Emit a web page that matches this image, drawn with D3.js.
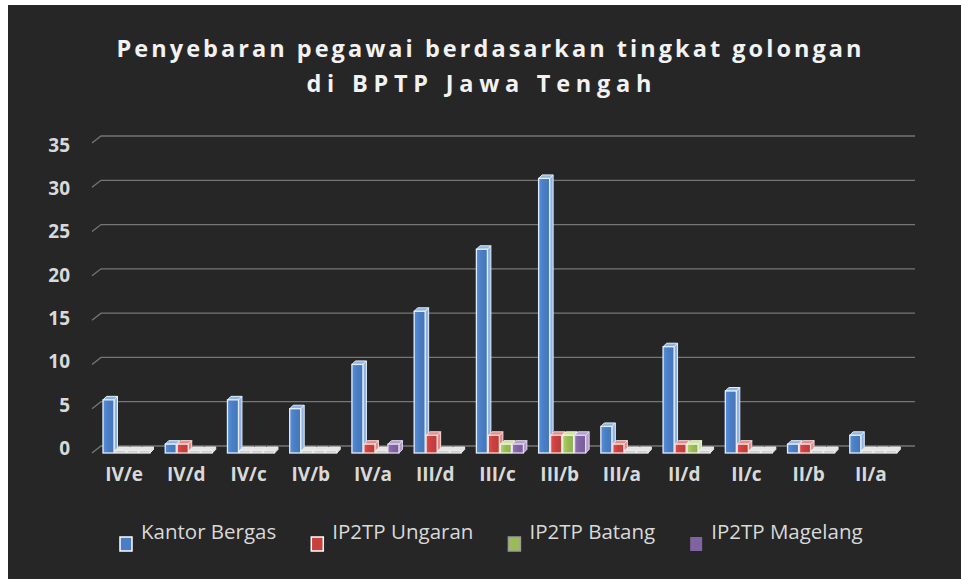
<!DOCTYPE html>
<html>
<head>
<meta charset="utf-8">
<script src="https://cdn.jsdelivr.net/npm/d3@7"></script>
<style>
  html, body { margin: 0; padding: 0; background: #ffffff; }
  svg { display: block; }
</style>
</head>
<body>
<div id="chart"></div>
<script>
// ---- data ----
const titleLines = ["Penyebaran pegawai berdasarkan tingkat golongan", "di BPTP Jawa Tengah"];
const categories = ["IV/e","IV/d","IV/c","IV/b","IV/a","III/d","III/c","III/b","III/a","II/d","II/c","II/b","II/a"];
const seriesNames = ["Kantor Bergas","IP2TP Ungaran","IP2TP Batang","IP2TP Magelang"];
const kantorBergas  = [6, 1, 6, 5, 10, 16, 23, 31, 3, 12, 7, 1, 2];
const ip2tpUngaran  = [0, 1, 0, 0, 1, 2, 2, 2, 1, 1, 1, 1, 0];
const ip2tpBatang   = [0, 0, 0, 0, 0, 0, 1, 2, 0, 1, 0, 0, 0];
const ip2tpMagelang = [0, 0, 0, 0, 1, 0, 1, 2, 0, 0, 0, 0, 0];
const yTicks = [0, 5, 10, 15, 20, 25, 30, 35];

const seriesValues = [kantorBergas, ip2tpUngaran, ip2tpBatang, ip2tpMagelang];
const seriesColors = ["#4a7ec4", "#c9413f", "#9bbb59", "#8064a2"];
const seriesLight  = ["#8fb4e4", "#e58a88", "#cfe29e", "#b29ccf"];
const seriesEdge   = ["#e3eefa", "#f6dcdb", "#eef5dd", "#e2d9ee"];

// ---- layout ----
const W = 961, H = 579;
const svg = d3.select("#chart").append("svg").attr("width", W).attr("height", H);

svg.append("rect").attr("x", 0).attr("y", 0).attr("width", W).attr("height", H).attr("fill", "#ffffff");
svg.append("rect").attr("x", 8).attr("y", 5).attr("width", W - 8).attr("height", H - 5).attr("fill", "#262626");

const defs = svg.append("defs");
seriesColors.forEach((c, i) => {
  const g = defs.append("linearGradient").attr("id", "grad" + i).attr("x1", "0").attr("x2", "1").attr("y1", "0").attr("y2", "0");
  g.append("stop").attr("offset", "0%").attr("stop-color", d3.color(c).brighter(0.35));
  g.append("stop").attr("offset", "45%").attr("stop-color", c);
  g.append("stop").attr("offset", "100%").attr("stop-color", d3.color(c).darker(0.2));
});

// Title
const titleY = [57, 92];
const titleX = [489, 479];
const titleLen = [745, 345];
titleLines.forEach((t, i) => {
  svg.append("text")
    .attr("x", titleX[i]).attr("y", titleY[i])
    .attr("text-anchor", "middle")
    .attr("font-family", "'Open Sans', sans-serif")
    .attr("font-weight", "bold")
    .attr("font-size", 23.5)
    .attr("textLength", titleLen[i])
    .attr("lengthAdjust", "spacing")
    .attr("fill", "#f2f2f2")
    .text(t);
});

// Scales
const depthX = 9, depthY = 7;            // floor / back wall depth
const yBack = d3.scaleLinear().domain([0, 35]).range([446, 136]);
const yFront = v => yBack(v) + depthY;
const yLabel = d3.scaleLinear().domain([0, 35]).range([448, 145]);
const x = d3.scaleBand().domain(categories).range([93, 902]).paddingInner(0).paddingOuter(0);
const xSub = d3.scaleBand().domain(seriesNames).range([10, 58]).padding(0);

// Gridlines (with slanted 3D start)
const grid = svg.append("g");
yTicks.forEach(v => {
  grid.append("path")
    .attr("d", `M92,${yFront(v)} L${92 + depthX},${yBack(v)} L915,${yBack(v)}`)
    .attr("fill", "none")
    .attr("stroke", "#767676")
    .attr("stroke-width", 1.3);
});

// Y tick labels
svg.append("g").selectAll("text").data(yTicks).join("text")
  .attr("x", 70).attr("y", d => yLabel(d))
  .attr("dy", "0.36em")
  .attr("text-anchor", "end")
  .attr("font-family", "'Open Sans', sans-serif")
  .attr("font-weight", "bold")
  .attr("font-size", 19)
  .attr("fill", "#d9d9d9")
  .text(d => d);

// X tick labels
svg.append("g").selectAll("text").data(categories).join("text")
  .attr("x", d => x(d) + x.bandwidth() / 2)
  .attr("y", 481)
  .attr("text-anchor", "middle")
  .attr("font-family", "'Open Sans', sans-serif")
  .attr("font-weight", "bold")
  .attr("font-size", 19)
  .attr("fill", "#d9d9d9")
  .text(d => d);

// Bars (thin 3D columns)
const d = 3.5;
const barsG = svg.append("g");
categories.forEach((cat, ci) => {
  seriesNames.forEach((s, si) => {
    const v = seriesValues[si][ci];
    const x0 = x(cat) + xSub(s);
    const w = xSub.bandwidth() - 1;
    const yb = yFront(0);
    let yt = yFront(v);
    const zero = v === 0;
    if (zero) yt = yb - 2.5;
    const g = barsG.append("g");
    const fillFront = zero ? "#c8c8c8" : `url(#grad${si})`;
    const fillSide = zero ? "#dcdcdc" : seriesLight[si];
    const edge = zero ? "#ececec" : seriesEdge[si];
    // side
    g.append("path")
      .attr("d", `M${x0 + w},${yt} L${x0 + w + d},${yt - d} L${x0 + w + d},${yb - d} L${x0 + w},${yb} Z`)
      .attr("fill", fillSide).attr("stroke", edge).attr("stroke-width", 1);
    // top
    g.append("path")
      .attr("d", `M${x0},${yt} L${x0 + d},${yt - d} L${x0 + w + d},${yt - d} L${x0 + w},${yt} Z`)
      .attr("fill", zero ? "#e4e4e4" : seriesLight[si]).attr("stroke", edge).attr("stroke-width", 1);
    // front
    g.append("rect")
      .attr("x", x0).attr("y", yt).attr("width", w).attr("height", yb - yt)
      .attr("fill", fillFront).attr("stroke", edge).attr("stroke-width", 1.3);
  });
});

// Legend
const legend = svg.append("g");
let lx = 120;
seriesNames.forEach((s, i) => {
  legend.append("rect")
    .attr("x", lx).attr("y", 537).attr("width", 12).attr("height", 14)
    .attr("fill", seriesColors[i])
    .attr("stroke", i < 2 ? "#ffffff" : (i === 2 ? "#9a9a9a" : "none"))
    .attr("stroke-width", 1.5);
  const t = legend.append("text")
    .attr("x", lx + 21).attr("y", 539)
    .attr("font-family", "'Open Sans', sans-serif")
    .attr("font-size", 20.5)
    .attr("fill", "#d9d9d9")
    .text(s);
  lx += 21 + t.node().getComputedTextLength() + 35;
});
</script>
</body>
</html>
